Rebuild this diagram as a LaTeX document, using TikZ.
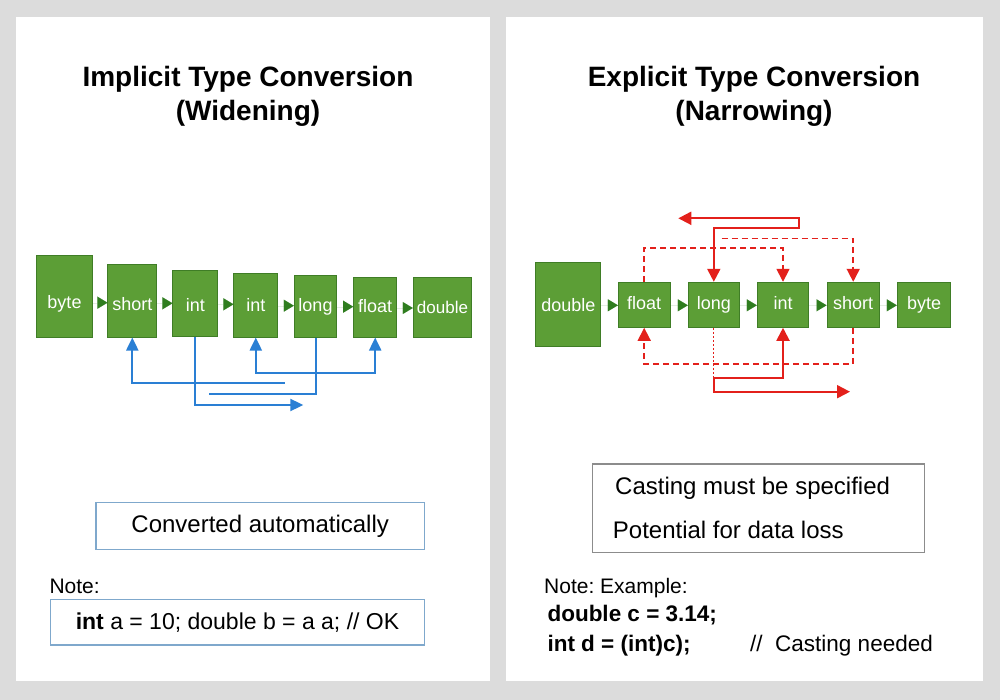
\documentclass[tikz,border=0pt]{standalone}
\usepackage{fontspec}
\setmainfont{Liberation Sans}
\usetikzlibrary{arrows.meta}
\frenchspacing
\definecolor{bgc}{HTML}{DCDCDC}
\definecolor{gfill}{HTML}{5C9E36}
\definecolor{gdraw}{HTML}{3F7D26}
\definecolor{garr}{HTML}{2F7D1F}
\definecolor{bline}{HTML}{2A7FD4}
\definecolor{rline}{HTML}{E3201B}
\definecolor{boxblue}{HTML}{7FA8CC}
\definecolor{boxgray}{HTML}{8C8C8C}
\tikzset{
  gbox/.style={draw=gdraw, fill=gfill, line width=1pt, inner sep=0pt},
  glabel/.style={text=white, font=\fontsize{18}{21}\selectfont, inner sep=0pt, anchor=base},
  rgbox/.style={gbox, minimum height=45pt, text=white, font=\fontsize{18}{21}\selectfont, text height=13pt, text depth=3.5pt},
  garrow/.style={draw=garr, line width=0.01pt, -{Triangle[length=10pt,width=12pt]}},
  bconn/.style={draw=bline, line width=2pt},
  btip/.tip={Triangle[length=13pt,width=12pt]},
  rsolid/.style={draw=rline, line width=2pt},
  rdash/.style={draw=rline, line width=1.6pt, dash pattern=on 6pt off 4pt},
  rdot/.style={draw=rline, line width=1.2pt, dash pattern=on 2pt off 2pt},
  rtip/.tip={Triangle[length=13pt,width=13pt]},
  title/.style={font=\fontsize{28}{34}\selectfont\bfseries, inner sep=0pt, anchor=base},
  body/.style={font=\fontsize{24}{28}\selectfont, inner sep=0pt},
  note/.style={font=\fontsize{21}{25}\selectfont, inner sep=0pt, anchor=base west},
  code/.style={font=\fontsize{22.5}{27}\selectfont, inner sep=0pt, anchor=base west},
}
\begin{document}
\begin{tikzpicture}[x=1pt,y=-1pt]
\useasboundingbox (0,0) rectangle (1000,700);
\fill[bgc] (0,0) rectangle (1000,700);
\fill[white] (16,17) rectangle (490,681);
\fill[white] (506,17) rectangle (983,681);

% ---------- Left panel ----------
\node[title] (lt1) at (248,87) {Implicit Type Conversion};
\node[title] (lt2) at (248,121) {(Widening)};

\node[gbox, minimum width=55.6pt, minimum height=81pt] (lbyte) at (64.5,296.5) {};
\node[gbox, minimum width=48.7pt, minimum height=72pt] (lshort) at (132.3,301) {};
\node[gbox, minimum width=44.7pt, minimum height=66.3pt] (lint1) at (195.3,303.8) {};
\node[gbox, minimum width=43.7pt, minimum height=63pt] (lint2) at (255.8,305.5) {};
\node[gbox, minimum width=42.4pt, minimum height=61pt] (llong) at (315.5,306.5) {};
\node[gbox, minimum width=43pt, minimum height=59pt] (lfloat) at (375.2,307.5) {};
\node[gbox, minimum width=58.4pt, minimum height=59pt] (ldouble) at (442.5,307.5) {};

\node[glabel] (lbyteL) at (64.5,308.3) {byte};
\node[glabel] (lshortL) at (132.3,310) {short};
\node[glabel] (lint1L) at (195.3,311) {int};
\node[glabel] (lint2L) at (255.8,311.3) {int};
\node[glabel] (llongL) at (315.5,311.7) {long};
\node[glabel] (lfloatL) at (375.2,312.7) {float};
\node[glabel, font=\fontsize{17}{20}\selectfont] (ldoubleL) at (442.5,313.3) {double};

\draw[garrow] (lbyte.east |- 0,302.7) -- (lshort.west |- 0,302.7);
\draw[garrow] (lshort.east |- 0,303.3) -- (lint1.west |- 0,303.3);
\draw[garrow] (lint1.east |- 0,304.3) -- (lint2.west |- 0,304.3);
\draw[garrow] (lint2.east |- 0,305.7) -- (llong.west |- 0,305.7);
\draw[garrow] (llong.east |- 0,306.7) -- (lfloat.west |- 0,306.7);
\draw[garrow] (lfloat.east |- 0,308) -- (ldouble.west |- 0,308);

\coordinate (b1) at (285,382.7);
\coordinate (b2) at (303.3,405);
\coordinate (b3) at (209.3,394);
\draw[bconn, btip-] (lshort.south) |- (b1);
\draw[bconn, -btip] (lint1.south) |- (b2);
\draw[bconn] (llong.south) |- (b3);
\draw[bconn, btip-btip] (lint2.south) -- ++(0,35.3) -| (lfloat.south);

\node[draw=boxblue, line width=1.2pt, minimum width=328.3pt, minimum height=46.6pt, body] (auto) at (260.2,526) {Converted automatically};
\node[note] (lnote) at (49.3,593) {Note:};
\node[draw=boxblue, line width=1.2pt, minimum width=373.6pt, minimum height=45.7pt, inner sep=0pt, font=\fontsize{23}{27}\selectfont] (lcode) at (237.5,622.2) {\textbf{int} a = 10; double b = a a; // OK};

% ---------- Right panel ----------
\node[title] (rt1) at (754,87) {Explicit Type Conversion};
\node[title] (rt2) at (754,121) {(Narrowing)};

\node[gbox, minimum width=64.7pt, minimum height=84pt, text=white, font=\fontsize{18}{21}\selectfont] (rdouble) at (568.3,304.7) {double};
\node[rgbox, minimum width=51.7pt] (rfloat) at (644.2,304.8) {float};
\node[rgbox, minimum width=51pt] (rlong) at (713.8,304.8) {long};
\node[rgbox, minimum width=51.4pt] (rint) at (783,304.8) {int};
\node[rgbox, minimum width=52.3pt] (rshort) at (853.2,304.8) {short};
\node[rgbox, minimum width=53.4pt] (rbyte) at (924,304.8) {byte};

\draw[garrow] (rdouble.east |- 0,305.3) -- (rfloat.west |- 0,305.3);
\draw[garrow] (rfloat.east |- 0,305.3) -- (rlong.west |- 0,305.3);
\draw[garrow] (rlong.east |- 0,305.3) -- (rint.west |- 0,305.3);
\draw[garrow] (rint.east |- 0,305.3) -- (rshort.west |- 0,305.3);
\draw[garrow] (rshort.east |- 0,305.3) -- (rbyte.west |- 0,305.3);

\coordinate (rA) at (678.3,218.3);
\coordinate (d2) at (721.7,238.5);
\coordinate (rJ) at (714.3,378.3);
\coordinate (rE) at (850,391.7);
\draw[rsolid, rtip-rtip] (rlong.north) |- (799.3,228.3) |- (rA);
\draw[rdash, -rtip] (rfloat.north) -- ++(0,-34) -| (rint.north);
\draw[rdash, -rtip] (d2) -| (rshort.north);
\draw[rdash, -rtip] (rshort.south) -- ++(0,36) -| (rfloat.south);
\draw[rdot] (rlong.south) -- (rlong.south |- rJ);
\draw[rsolid, rtip-rtip] (rint.south) |- (rJ) |- (rE);

\node[draw=boxgray, line width=1.2pt, minimum width=331.6pt, minimum height=88.3pt, inner sep=0pt] (cbox) at (758.5,508.2) {};
\node[body, anchor=base west] (c1) at (615,494.5) {Casting must be specified};
\node[body, anchor=base west] (c2) at (612.7,538) {Potential for data loss};

\node[note] (rnote) at (544,593) {Note: Example:};
\node[code, font=\fontsize{22.5}{27}\selectfont\bfseries] (e1) at (547.3,621.5) {double c = 3.14;};
\node[code, font=\fontsize{22.5}{27}\selectfont\bfseries] (e2) at (547.3,651) {int d = (int)c);};
\node[code] (e3) at (750,651) {//~~Casting needed};
\end{tikzpicture}
\end{document}
